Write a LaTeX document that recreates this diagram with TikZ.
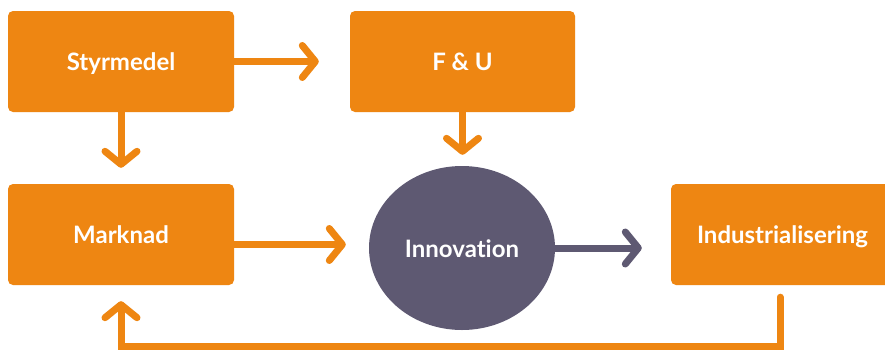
\documentclass[tikz,border=0pt]{standalone}
\usepackage{fontspec}
\setmainfont{Lato}[Ligatures={NoCommon}]
\usetikzlibrary{arrows.meta,shapes.geometric}
\definecolor{orng}{RGB}{238,134,18}
\definecolor{plum}{RGB}{94,89,114}
\begin{document}
\begin{tikzpicture}[x=1pt,y=-1pt,
  label font/.style={text=white,font=\fontsize{24}{28}\selectfont\bfseries,text height=18pt,text depth=0pt},
  box/.style={draw=none,fill=orng,rounded corners=5pt,minimum width=226pt,minimum height=101pt,
    inner sep=0pt,label font},
  oval/.style={ellipse,draw=none,fill=plum,minimum width=186pt,minimum height=164pt,
    inner sep=0pt,label font},
  arr/.style={line width=7pt,line cap=round,line join=miter,
    -{Straight Barb[length=13pt,width=32pt,round]}},
  oarr/.style={arr,draw=orng},
  parr/.style={arr,draw=plum}]
\clip (0,0) rectangle (885,351);
\fill[white] (0,0) rectangle (885,351);

\node[box] (sty) at (121,61.5) {Styrmedel};
\node[box,minimum width=225pt] (fou) at (462.5,61.5) {F \& U};
\node[box] (mar) at (121,234.5) {Marknad};
\node[box,minimum width=223pt] (ind) at (782.5,234.5) {Industrialisering};
\node[oval] (inn) at (462,248) {Innovation};

\draw[oarr,shorten >=31pt] (sty.east) -- (fou.west);
\draw[oarr,shorten >=16pt] (sty.south) -- (mar.south |- mar.north);
\draw[oarr,shorten >=11pt] (fou.south) -- (fou.south |- inn.north);
\draw[oarr,shorten >=23pt] ([yshift=-10pt]mar.east) -- ([yshift=-10pt]mar.east -| inn.west);
\draw[parr,shorten >=29pt] (inn.east) -- (inn.east -| ind.west);
\draw[oarr,shorten >=16pt] ([xshift=-2.5pt,yshift=-12pt]ind.south) -- ++(0,49) -| (mar.south);
\end{tikzpicture}
\end{document}
